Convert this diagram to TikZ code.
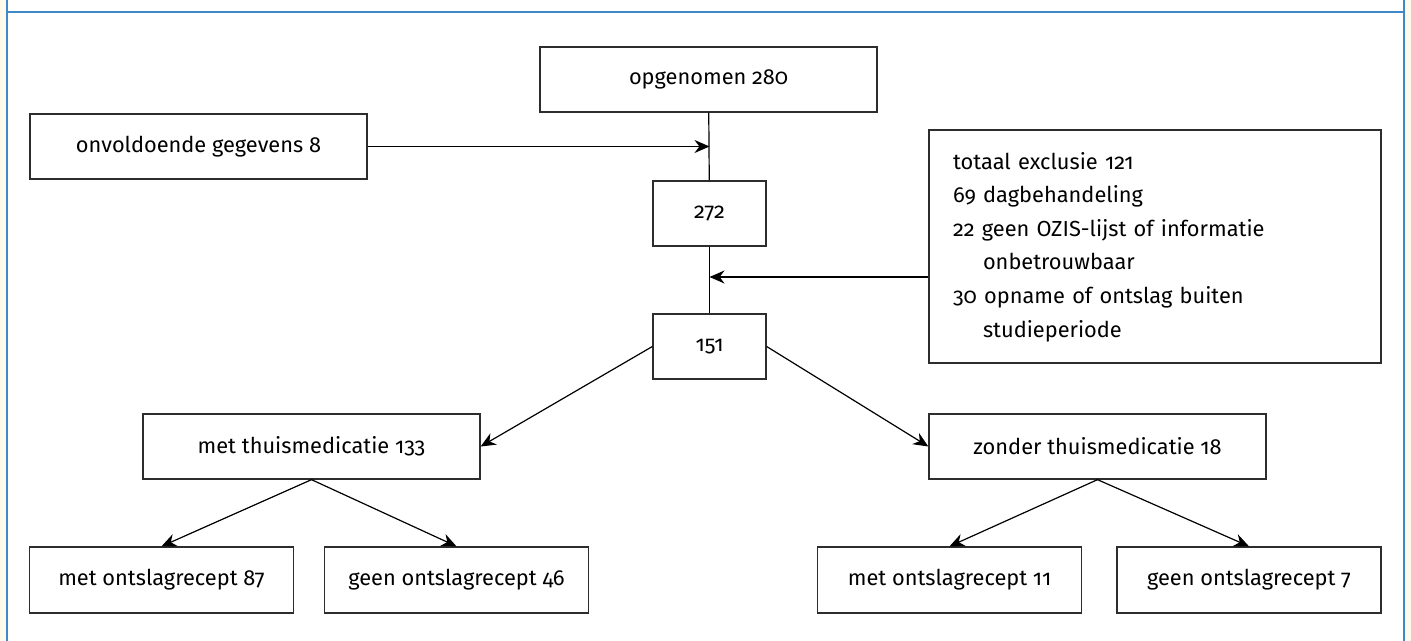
\documentclass[tikz,border=0pt]{standalone}
\usepackage{fontspec}
\setmainfont{Fira Sans}[Numbers=OldStyle]
\usetikzlibrary{arrows.meta, positioning}
\usepackage{xcolor}
\definecolor{BB}{RGB}{62,138,200}
\definecolor{CR}{RGB}{255,249,236}
\definecolor{DG}{RGB}{45,45,45}
\begin{document}
\begin{tikzpicture}[
  x=0.5pt, y=-0.5pt,
  box/.style={draw=DG, line width=0.65pt, minimum width=168.5pt, minimum height=32.5pt,
              inner sep=0pt, align=center, font=\fontsize{10.9}{13}\selectfont},
  small/.style={box, minimum width=56.5pt},
  leaf/.style={box, minimum width=132pt, minimum height=33pt},
  note/.style={draw=DG, line width=0.65pt, minimum width=226pt, minimum height=116.5pt,
               inner xsep=12pt, inner ysep=0pt, text width=202pt, align=left,
               font=\fontsize{10.9}{16.8}\selectfont},
  arr/.style={-{Stealth[length=7.5pt,width=6.5pt]}, line width=0.6pt},
  lin/.style={line width=0.6pt}
]
\useasboundingbox (0,0) rectangle (1411,641);
% frame
\fill[CR] (0,0) rectangle (1411,641);
\fill[white] (7,0) rectangle (1404,641);
\draw[BB, line width=0.8pt] (7,0) -- (7,641) (1404,0) -- (1404,641) (7,12) -- (1404,12);

% main column
\node[box] (opg) at (708.5,79.5) {opgenomen 280};
\node[box] (onv) at (198.5,146.5) {onvoldoende gegevens 8};
\node[small] (c272) at (709.5,213.5) {272};
\node[small] (c151) at (709.5,346.5) {151};
\node[note] (excl) at (1155,246.5)
  {\rule{0pt}{9pt}totaal exclusie 121\\69 dagbehandeling\\22 geen OZIS-lijst of informatie\\
   \hspace*{15pt}onbetrouwbaar\\30 opname of ontslag buiten\\\hspace*{15pt}studieperiode};

\coordinate (in1) at (c272.north |- onv.east);
\coordinate (in2) at (c272.south |- 0,277);
\draw[lin] (opg) -- (c272);
\draw[lin] (c272) -- (c151);
\draw[arr] (onv.east) -- (in1);
\draw[arr] (excl.west |- in2) -- (in2);

% split
\node[box] (met) at (311.5,446.5) {met thuismedicatie 133};
\node[box] (zon) at (1097.5,446.5) {zonder thuismedicatie 18};
\draw[arr] (c151.west) -- (met.east);
\draw[arr] (c151.east) -- (zon.west);

% leaves
\foreach \n/\x/\t in {mm/161.5/met ontslagrecept 87, mg/456.5/geen ontslagrecept 46,
                      zm/949.5/met ontslagrecept 11, zg/1249/geen ontslagrecept 7}
  { \node[leaf] (\n) at (\x,580) {\t}; }
\foreach \p/\c in {met/mm, met/mg, zon/zm, zon/zg}
  { \draw[arr] (\p.south) -- (\c.north); }
\end{tikzpicture}
\end{document}
